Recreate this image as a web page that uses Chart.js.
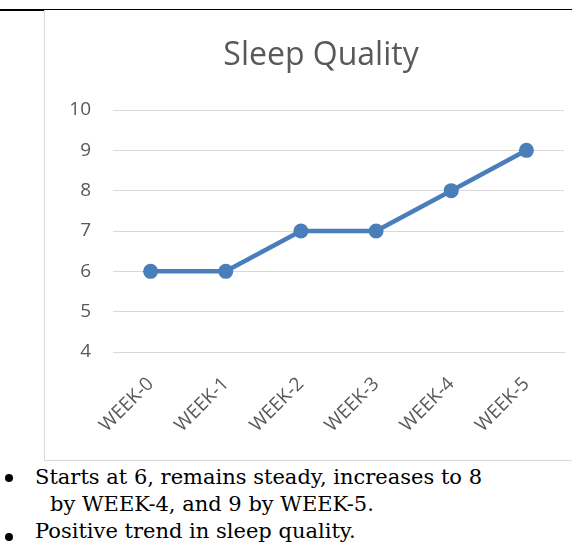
<!DOCTYPE html>
<html>
<head>
<meta charset="utf-8">
<script src="https://cdn.jsdelivr.net/npm/chart.js@4.4.1/dist/chart.umd.min.js"></script>
<style>
  body { margin: 0; background: #fff; width: 572px; height: 546px; overflow: hidden; position: relative; }
  #topline { position: absolute; left: 0; top: 9px; width: 572px; height: 1px; background: #000; }
  #topline2 { position: absolute; left: 0; top: 9px; width: 45px; height: 2px; background: #000; }
  #frame { position: absolute; left: 44px; top: 10px; width: 540px; height: 450px; border-left: 1px solid #d9d9d9; border-bottom: 1px solid #d9d9d9; }
  #chartBox { position: absolute; left: 0; top: 0; width: 572px; height: 460px; }
  .note { position: absolute; font-family: "DejaVu Serif", serif; font-size: 21px; color: #000; white-space: nowrap; }
  .dot { position: absolute; left: 5px; width: 8px; height: 8px; border-radius: 50%; background: #000; }
</style>
</head>
<body>
<div id="topline"></div>
<div id="topline2"></div>
<div id="frame"></div>
<div id="chartBox"><canvas id="sleepChart" width="572" height="460"></canvas></div>

<div class="dot" style="top:474px"></div>
<div class="note" style="left:35px; top:465px">Starts at 6, remains steady, increases to 8</div>
<div class="note" style="left:50px; top:492px">by WEEK-4, and 9 by WEEK-5.</div>
<div class="dot" style="top:533px"></div>
<div class="note" style="left:35px; top:519px">Positive trend in sleep quality.</div>

<script>
// ===== dữ liệu =====
const weeks = ["WEEK-0", "WEEK-1", "WEEK-2", "WEEK-3", "WEEK-4", "WEEK-5"];
const sleepScores = [6, 6, 7, 7, 8, 9];
const yTicks = [4, 5, 6, 7, 8, 9, 10];
const chartTitle = "Sleep Quality";

const grey = '#595959';

// tiêu đề: căn giữa theo khung biểu đồ chứ không theo canvas
const titlePlugin = {
    id: 'frameTitle',
    afterDraw(chart) {
        const c = chart.ctx;
        c.save();
        c.font = '32px "Open Sans"';
        c.fillStyle = grey;
        c.textAlign = 'center';
        c.textBaseline = 'alphabetic';
        c.fillText(chartTitle, 321, 65);
        c.restore();
    }
};

const ctx = document.getElementById('sleepChart').getContext('2d');
const sleepChart = new Chart(ctx, {
    type: 'line',
    data: {
        labels: weeks,
        datasets: [{
            label: chartTitle,
            data: sleepScores,
            borderColor: '#4a7ebb',
            backgroundColor: '#4a7ebb',
            borderWidth: 4.5,
            pointRadius: 7.5,
            pointHoverRadius: 7.5,
            pointBackgroundColor: '#4a7ebb',
            pointBorderWidth: 0,
            tension: 0
        }]
    },
    options: {
        responsive: false,
        animation: false,
        events: [],
        layout: { padding: { left: 0, right: 8, top: 110, bottom: 0 } },
        plugins: {
            legend: { display: false },
            tooltip: { enabled: false },
            title: { display: false }
        },
        scales: {
            x: {
                offset: true,
                grid: { display: false, drawTicks: false },
                border: { display: true, color: '#d9d9d9', width: 1 },
                ticks: {
                    color: grey,
                    font: { family: 'Open Sans', size: 19 },
                    minRotation: 45,
                    maxRotation: 45,
                    padding: 21
                },
                afterFit: (scale) => { scale.height = 108; }
            },
            y: {
                min: 4,
                max: 10,
                afterBuildTicks: (scale) => { scale.ticks = yTicks.map(v => ({ value: v })); },
                grid: { color: '#d9d9d9', lineWidth: 1, drawTicks: false },
                border: { display: false },
                ticks: {
                    color: grey,
                    font: { family: 'Open Sans', size: 19 },
                    padding: 22
                },
                afterFit: (scale) => { scale.width = 113; }
            }
        }
    },
    plugins: [titlePlugin]
});
</script>
</body>
</html>
